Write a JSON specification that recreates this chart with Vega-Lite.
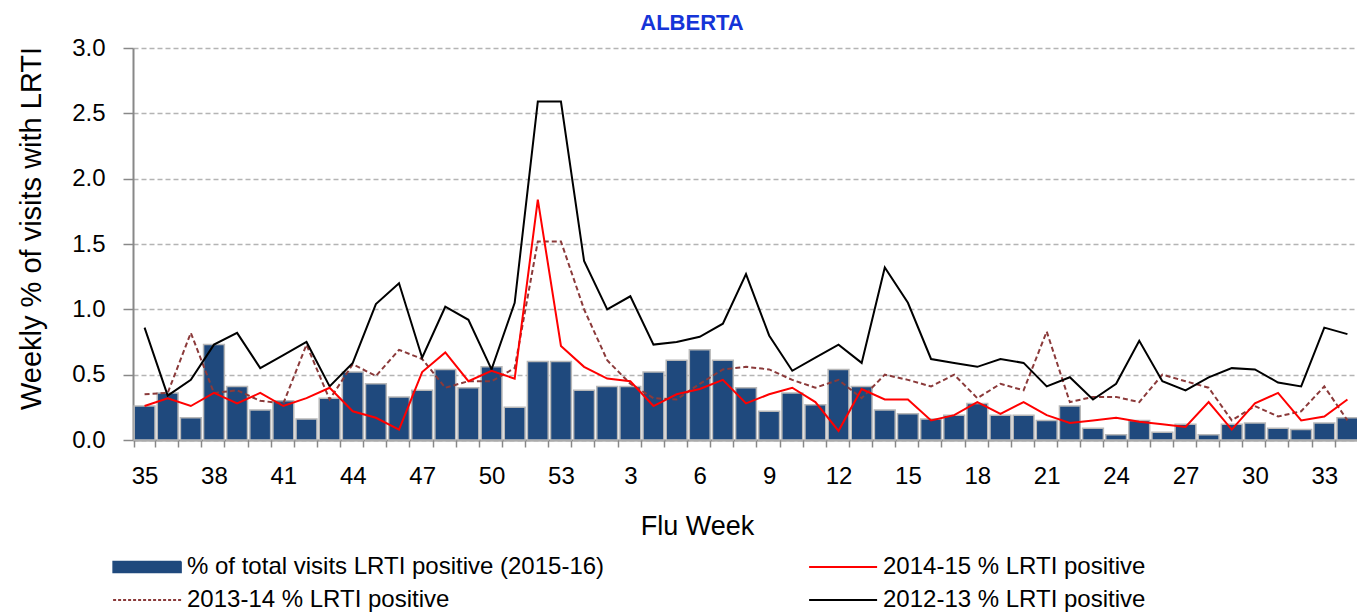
{
  "$schema": "https://vega.github.io/schema/vega-lite/v6.json",
  "autosize": {"type": "none"},
  "padding": {"left": 133, "top": 48, "right": 0, "bottom": 174},
  "width": 1226,
  "height": 392,
  "background": "white",
  "config": {
    "font": "Liberation Sans, Arial, sans-serif",
    "view": {"stroke": null},
    "legend": {
      "orient": "none",
      "legendX": -20,
      "legendY": 507,
      "padding": 0,
      "direction": "horizontal",
      "columns": 2,
      "columnPadding": 200,
      "rowPadding": 9,
      "labelFontSize": 24,
      "labelColor": "#000",
      "labelOffset": 50,
      "labelLimit": 700,
      "symbolSize": 4624,
      "titleFontSize": 0
    }
  },
  "title": {
    "text": "ALBERTA",
    "color": "#1534d8",
    "fontSize": 22,
    "fontWeight": "bold",
    "font": "Liberation Sans, Arial, sans-serif",
    "anchor": "middle",
    "dx": -54,
    "offset": 1
  },
  "data": {
    "values": [
      {"week": "35", "v1516": 0.26, "v1415": 0.26, "v1314": 0.35, "v1213": 0.86},
      {"week": "36", "v1516": 0.36, "v1415": 0.32, "v1314": 0.36, "v1213": 0.34},
      {"week": "37", "v1516": 0.17, "v1415": 0.26, "v1314": 0.82, "v1213": 0.46},
      {"week": "38", "v1516": 0.73, "v1415": 0.36, "v1314": 0.36, "v1213": 0.73},
      {"week": "39", "v1516": 0.41, "v1415": 0.28, "v1314": 0.38, "v1213": 0.82},
      {"week": "40", "v1516": 0.23, "v1415": 0.36, "v1314": 0.30, "v1213": 0.55},
      {"week": "41", "v1516": 0.30, "v1415": 0.26, "v1314": 0.28, "v1213": 0.65},
      {"week": "42", "v1516": 0.16, "v1415": 0.32, "v1314": 0.73, "v1213": 0.75},
      {"week": "43", "v1516": 0.32, "v1415": 0.40, "v1314": 0.31, "v1213": 0.41},
      {"week": "44", "v1516": 0.52, "v1415": 0.22, "v1314": 0.58, "v1213": 0.59},
      {"week": "45", "v1516": 0.43, "v1415": 0.17, "v1314": 0.49, "v1213": 1.04},
      {"week": "46", "v1516": 0.33, "v1415": 0.08, "v1314": 0.69, "v1213": 1.20},
      {"week": "47", "v1516": 0.38, "v1415": 0.52, "v1314": 0.62, "v1213": 0.63},
      {"week": "48", "v1516": 0.54, "v1415": 0.67, "v1314": 0.40, "v1213": 1.02},
      {"week": "49", "v1516": 0.40, "v1415": 0.45, "v1314": 0.45, "v1213": 0.92},
      {"week": "50", "v1516": 0.56, "v1415": 0.53, "v1314": 0.45, "v1213": 0.54},
      {"week": "51", "v1516": 0.25, "v1415": 0.47, "v1314": 0.55, "v1213": 1.05},
      {"week": "52", "v1516": 0.60, "v1415": 1.84, "v1314": 1.52, "v1213": 2.59},
      {"week": "53", "v1516": 0.60, "v1415": 0.72, "v1314": 1.52, "v1213": 2.59},
      {"week": "1", "v1516": 0.38, "v1415": 0.56, "v1314": 1.00, "v1213": 1.37},
      {"week": "2", "v1516": 0.41, "v1415": 0.47, "v1314": 0.61, "v1213": 1.00},
      {"week": "3", "v1516": 0.41, "v1415": 0.45, "v1314": 0.43, "v1213": 1.10},
      {"week": "4", "v1516": 0.52, "v1415": 0.26, "v1314": 0.32, "v1213": 0.73},
      {"week": "5", "v1516": 0.61, "v1415": 0.35, "v1314": 0.31, "v1213": 0.75},
      {"week": "6", "v1516": 0.69, "v1415": 0.39, "v1314": 0.43, "v1213": 0.79},
      {"week": "7", "v1516": 0.61, "v1415": 0.46, "v1314": 0.54, "v1213": 0.89},
      {"week": "8", "v1516": 0.40, "v1415": 0.28, "v1314": 0.56, "v1213": 1.27},
      {"week": "9", "v1516": 0.22, "v1415": 0.35, "v1314": 0.54, "v1213": 0.80},
      {"week": "10", "v1516": 0.36, "v1415": 0.40, "v1314": 0.46, "v1213": 0.53},
      {"week": "11", "v1516": 0.27, "v1415": 0.29, "v1314": 0.40, "v1213": 0.63},
      {"week": "12", "v1516": 0.54, "v1415": 0.07, "v1314": 0.46, "v1213": 0.73},
      {"week": "13", "v1516": 0.41, "v1415": 0.39, "v1314": 0.32, "v1213": 0.59},
      {"week": "14", "v1516": 0.23, "v1415": 0.31, "v1314": 0.50, "v1213": 1.32},
      {"week": "15", "v1516": 0.20, "v1415": 0.31, "v1314": 0.46, "v1213": 1.05},
      {"week": "16", "v1516": 0.16, "v1415": 0.15, "v1314": 0.41, "v1213": 0.62},
      {"week": "17", "v1516": 0.19, "v1415": 0.19, "v1314": 0.50, "v1213": 0.59},
      {"week": "18", "v1516": 0.28, "v1415": 0.29, "v1314": 0.32, "v1213": 0.56},
      {"week": "19", "v1516": 0.19, "v1415": 0.20, "v1314": 0.43, "v1213": 0.62},
      {"week": "20", "v1516": 0.19, "v1415": 0.29, "v1314": 0.38, "v1213": 0.59},
      {"week": "21", "v1516": 0.15, "v1415": 0.19, "v1314": 0.83, "v1213": 0.41},
      {"week": "22", "v1516": 0.26, "v1415": 0.13, "v1314": 0.29, "v1213": 0.48},
      {"week": "23", "v1516": 0.09, "v1415": 0.15, "v1314": 0.33, "v1213": 0.31},
      {"week": "24", "v1516": 0.04, "v1415": 0.17, "v1314": 0.33, "v1213": 0.43},
      {"week": "25", "v1516": 0.15, "v1415": 0.14, "v1314": 0.29, "v1213": 0.76},
      {"week": "26", "v1516": 0.06, "v1415": 0.12, "v1314": 0.50, "v1213": 0.45},
      {"week": "27", "v1516": 0.12, "v1415": 0.10, "v1314": 0.45, "v1213": 0.38},
      {"week": "28", "v1516": 0.04, "v1415": 0.29, "v1314": 0.40, "v1213": 0.48},
      {"week": "29", "v1516": 0.12, "v1415": 0.08, "v1314": 0.15, "v1213": 0.55},
      {"week": "30", "v1516": 0.13, "v1415": 0.28, "v1314": 0.26, "v1213": 0.54},
      {"week": "31", "v1516": 0.09, "v1415": 0.36, "v1314": 0.18, "v1213": 0.44},
      {"week": "32", "v1516": 0.08, "v1415": 0.15, "v1314": 0.22, "v1213": 0.41},
      {"week": "33", "v1516": 0.13, "v1415": 0.18, "v1314": 0.41, "v1213": 0.86},
      {"week": "34", "v1516": 0.17, "v1415": 0.31, "v1314": 0.15, "v1213": 0.81}
    ]
  },
  "encoding": {
    "x": {
      "field": "week",
      "type": "ordinal",
      "sort": null,
      "scale": {"paddingInner": 0.1, "paddingOuter": 0.05},
      "axis": {
        "title": "Flu Week",
        "titleFontSize": 27,
        "titleFontWeight": "normal",
        "titleColor": "#000",
        "titlePadding": 25,
        "titleX": 564,
        "labelAngle": 0,
        "labelFontSize": 24,
        "labelColor": "#000",
        "labelPadding": 17,
        "labelExpr": "indexof(['35','38','41','44','47','50','53','3','6','9','12','15','18','21','24','27','30','33'], datum.label) >= 0 ? datum.label : ''",
        "tickBand": "extent",
        "tickSize": 7,
        "tickColor": "#888",
        "tickWidth": 1.5,
        "domainColor": "#888",
        "domainWidth": 2
      }
    }
  },
  "layer": [
    {
      "mark": {"type": "bar", "stroke": "#b8b8b8", "strokeWidth": 1.5, "fillOpacity": 1},
      "encoding": {
        "y": {
          "field": "v1516",
          "type": "quantitative",
          "scale": {"domain": [0, 3], "nice": false},
          "axis": {
            "title": "Weekly % of visits with LRTI",
            "titleFontSize": 29,
            "titleFontWeight": "normal",
            "titleColor": "#000",
            "titlePadding": 25,
            "titleY": 180,
            "values": [0, 0.5, 1, 1.5, 2, 2.5, 3],
            "format": ".1f",
            "labelFontSize": 24,
            "labelColor": "#000",
            "labelPadding": 18,
            "tickSize": 10,
            "tickColor": "#888",
            "tickWidth": 1.5,
            "domainColor": "#888",
            "domainWidth": 2,
            "grid": true,
            "gridColor": "#b4b4b4",
            "gridDash": [5, 3],
            "gridWidth": 1.5
          }
        },
        "color": {
          "datum": "% of total visits LRTI positive (2015-16)",
          "type": "nominal",
          "scale": {
            "domain": [
              "% of total visits LRTI positive (2015-16)",
              "2014-15 % LRTI  positive",
              "2013-14 % LRTI  positive",
              "2012-13 % LRTI positive"
            ],
            "range": ["#1f497d", "#ff0000", "#8b3a3a", "#000000"]
          },
          "legend": {
            "title": null,
            "encode": {
              "symbols": {
                "update": {
                  "shape": {"signal": "datum.value === '% of total visits LRTI positive (2015-16)' ? 'M-0.35,-0.16H1.65V0.16H-0.35Z' : 'M-0.35,0H1.65'"},
                  "fill": {"signal": "datum.value === '% of total visits LRTI positive (2015-16)' ? '#1f497d' : 'transparent'"},
                  "stroke": {"signal": "datum.value === '% of total visits LRTI positive (2015-16)' ? '#b8b8b8' : (datum.value === '2014-15 % LRTI  positive' ? '#ff0000' : (datum.value === '2013-14 % LRTI  positive' ? '#8b3a3a' : '#000000'))"},
                  "strokeDash": {"signal": "datum.value === '2013-14 % LRTI  positive' ? [3, 2] : [1, 0]"},
                  "strokeWidth": {"signal": "datum.value === '% of total visits LRTI positive (2015-16)' ? 1.5 : 2"},
                  "opacity": {"value": 1}
                }
              }
            }
          }
        }
      }
    },
    {
      "mark": {"type": "line", "strokeWidth": 2, "strokeDash": [5, 3]},
      "encoding": {
        "y": {"field": "v1314", "type": "quantitative"},
        "color": {
          "datum": "2013-14 % LRTI  positive",
          "type": "nominal",
          "legend": {
            "title": null,
            "encode": {
              "symbols": {
                "update": {
                  "shape": {"signal": "datum.value === '% of total visits LRTI positive (2015-16)' ? 'M-0.35,-0.16H1.65V0.16H-0.35Z' : 'M-0.35,0H1.65'"},
                  "fill": {"signal": "datum.value === '% of total visits LRTI positive (2015-16)' ? '#1f497d' : 'transparent'"},
                  "stroke": {"signal": "datum.value === '% of total visits LRTI positive (2015-16)' ? '#b8b8b8' : (datum.value === '2014-15 % LRTI  positive' ? '#ff0000' : (datum.value === '2013-14 % LRTI  positive' ? '#8b3a3a' : '#000000'))"},
                  "strokeDash": {"signal": "datum.value === '2013-14 % LRTI  positive' ? [3, 2] : [1, 0]"},
                  "strokeWidth": {"signal": "datum.value === '% of total visits LRTI positive (2015-16)' ? 1.5 : 2"},
                  "opacity": {"value": 1}
                }
              }
            }
          }
        }
      }
    },
    {
      "mark": {"type": "line", "strokeWidth": 2},
      "encoding": {
        "y": {"field": "v1213", "type": "quantitative"},
        "color": {
          "datum": "2012-13 % LRTI positive",
          "type": "nominal",
          "legend": {
            "title": null,
            "encode": {
              "symbols": {
                "update": {
                  "shape": {"signal": "datum.value === '% of total visits LRTI positive (2015-16)' ? 'M-0.35,-0.16H1.65V0.16H-0.35Z' : 'M-0.35,0H1.65'"},
                  "fill": {"signal": "datum.value === '% of total visits LRTI positive (2015-16)' ? '#1f497d' : 'transparent'"},
                  "stroke": {"signal": "datum.value === '% of total visits LRTI positive (2015-16)' ? '#b8b8b8' : (datum.value === '2014-15 % LRTI  positive' ? '#ff0000' : (datum.value === '2013-14 % LRTI  positive' ? '#8b3a3a' : '#000000'))"},
                  "strokeDash": {"signal": "datum.value === '2013-14 % LRTI  positive' ? [3, 2] : [1, 0]"},
                  "strokeWidth": {"signal": "datum.value === '% of total visits LRTI positive (2015-16)' ? 1.5 : 2"},
                  "opacity": {"value": 1}
                }
              }
            }
          }
        }
      }
    },
    {
      "mark": {"type": "line", "strokeWidth": 2},
      "encoding": {
        "y": {"field": "v1415", "type": "quantitative"},
        "color": {
          "datum": "2014-15 % LRTI  positive",
          "type": "nominal",
          "legend": {
            "title": null,
            "encode": {
              "symbols": {
                "update": {
                  "shape": {"signal": "datum.value === '% of total visits LRTI positive (2015-16)' ? 'M-0.35,-0.16H1.65V0.16H-0.35Z' : 'M-0.35,0H1.65'"},
                  "fill": {"signal": "datum.value === '% of total visits LRTI positive (2015-16)' ? '#1f497d' : 'transparent'"},
                  "stroke": {"signal": "datum.value === '% of total visits LRTI positive (2015-16)' ? '#b8b8b8' : (datum.value === '2014-15 % LRTI  positive' ? '#ff0000' : (datum.value === '2013-14 % LRTI  positive' ? '#8b3a3a' : '#000000'))"},
                  "strokeDash": {"signal": "datum.value === '2013-14 % LRTI  positive' ? [3, 2] : [1, 0]"},
                  "strokeWidth": {"signal": "datum.value === '% of total visits LRTI positive (2015-16)' ? 1.5 : 2"},
                  "opacity": {"value": 1}
                }
              }
            }
          }
        }
      }
    }
  ]
}
